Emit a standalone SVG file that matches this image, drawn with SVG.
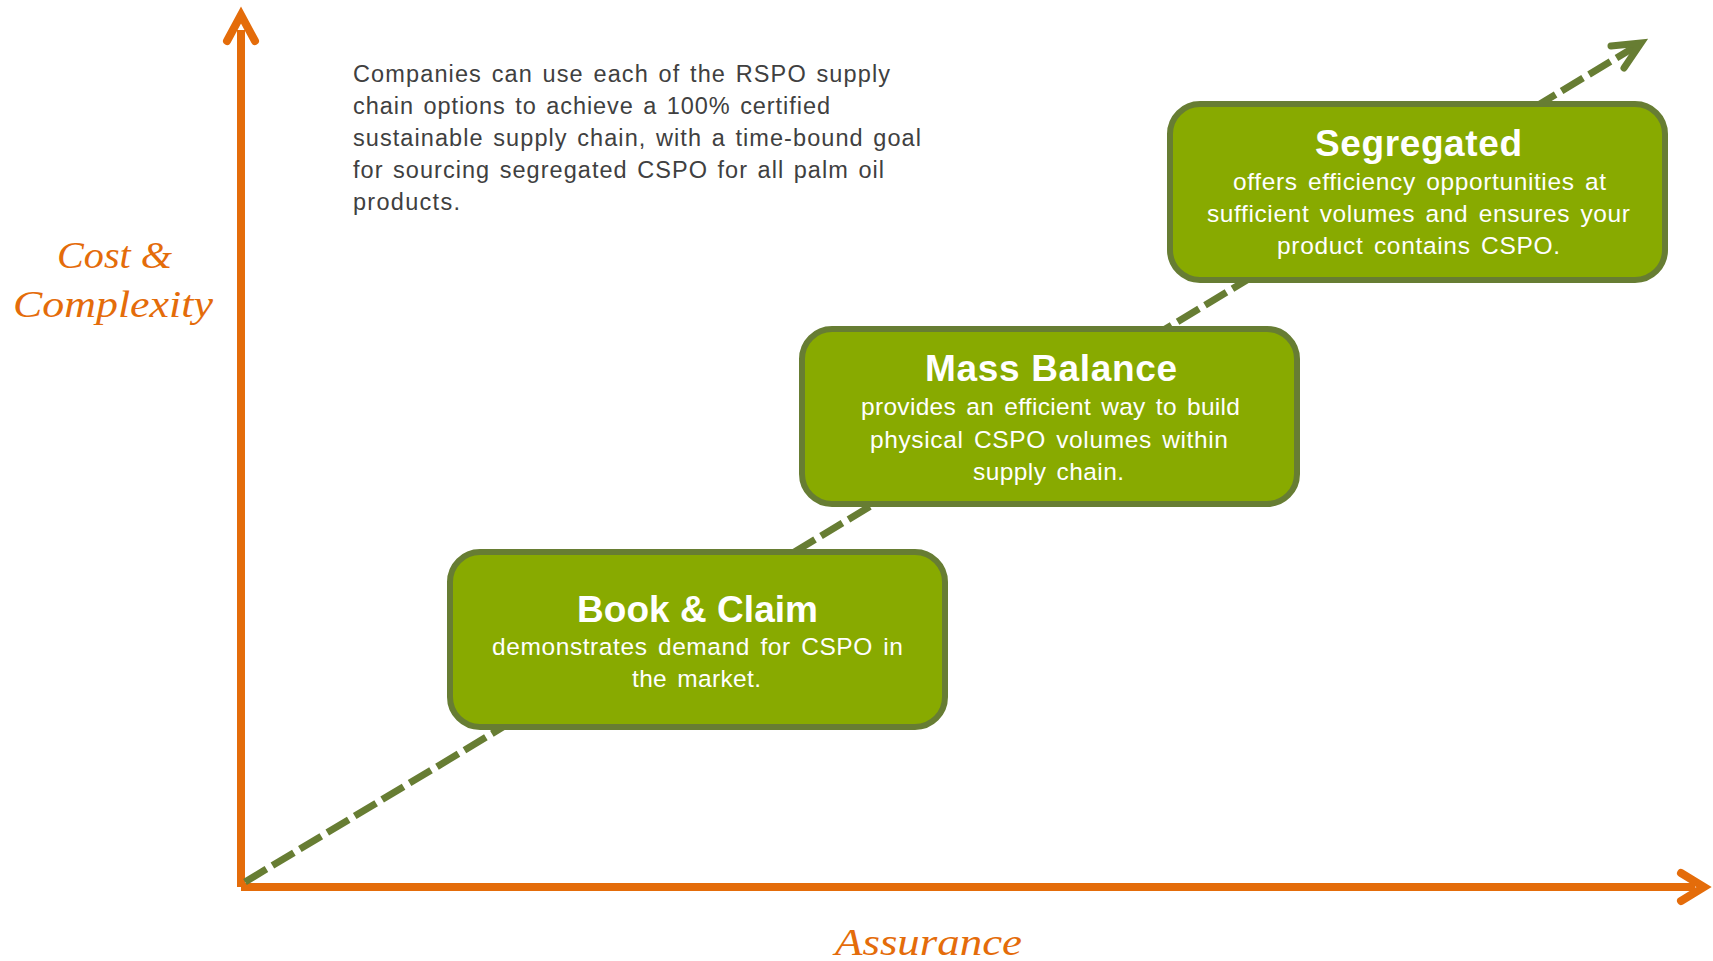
<svg xmlns="http://www.w3.org/2000/svg" width="1713" height="961" viewBox="0 0 1713 961">
  <style>
    .axis { fill: none; stroke: #E46C0A; stroke-width: 8; }
    .axishead { fill: none; stroke: #E46C0A; stroke-width: 8; stroke-linecap: round; stroke-linejoin: miter; }
    .axislabel { font-family: "Liberation Serif", "Times New Roman", serif; font-style: italic; font-size: 38px; fill: #E46C0A; }
    .desc { font-family: "Liberation Sans", Arial, sans-serif; font-size: 23.5px; fill: #404040; word-spacing: 2px; }
    .box { fill: #88AA00; stroke: #677D33; stroke-width: 6; }
    .title { font-family: "Liberation Sans", Arial, sans-serif; font-weight: bold; font-size: 37px; fill: #FFFFFF; }
    .body { font-family: "Liberation Sans", Arial, sans-serif; font-size: 24.5px; fill: #FFFFFF; word-spacing: 3px; }
    .dash { fill: none; stroke: #677D33; stroke-width: 7; stroke-dasharray: 25 7; }
    .dashhead { fill: none; stroke: #677D33; stroke-width: 7; stroke-linecap: round; stroke-linejoin: miter; }
  </style>

  <g id="axes">
    <path class="axis" d="M241,887 V30"/>
    <path class="axishead" d="M227,41 L241,15 L255,41"/>
    <path class="axis" d="M241,887 H1695"/>
    <path class="axishead" d="M1681,873 L1704,887 L1681,901"/>
    <text class="axislabel" x="57" y="268" textLength="115" lengthAdjust="spacingAndGlyphs">Cost &amp;</text>
    <text class="axislabel" x="13" y="317" textLength="200" lengthAdjust="spacingAndGlyphs">Complexity</text>
    <text class="axislabel" x="835" y="955" textLength="187" lengthAdjust="spacingAndGlyphs">Assurance</text>
  </g>

  <g id="description">
    <text class="desc" x="353" y="82" textLength="537">Companies can use each of the RSPO supply</text>
    <text class="desc" x="353" y="114" textLength="477">chain options to achieve a 100% certified</text>
    <text class="desc" x="353" y="146" textLength="568">sustainable supply chain, with a time-bound goal</text>
    <text class="desc" x="353" y="178" textLength="531">for sourcing segregated CSPO for all palm oil</text>
    <text class="desc" x="353" y="210" textLength="107">products.</text>
  </g>

  <g id="connectors">
    <path class="dash" d="M245,882 L1638,45"/>
    <path class="dashhead" d="M1611,46 L1641,43 L1624,68"/>
  </g>

  <g id="book-claim">
    <rect class="box" x="450" y="552" width="495" height="175" rx="30" ry="30"/>
    <text class="title" x="577" y="622" textLength="241">Book &amp; Claim</text>
    <text class="body" x="492" y="655" textLength="411">demonstrates demand for CSPO in</text>
    <text class="body" x="632" y="687" textLength="129">the market.</text>
  </g>

  <g id="mass-balance">
    <rect class="box" x="802" y="329" width="495" height="175" rx="30" ry="30"/>
    <text class="title" x="925" y="381" textLength="252">Mass Balance</text>
    <text class="body" x="861" y="415" textLength="379">provides an efficient way to build</text>
    <text class="body" x="870" y="448" textLength="358">physical CSPO volumes within</text>
    <text class="body" x="973" y="480" textLength="151">supply chain.</text>
  </g>

  <g id="segregated">
    <rect class="box" x="1170" y="104" width="495" height="176" rx="30" ry="30"/>
    <text class="title" x="1315" y="156" textLength="207">Segregated</text>
    <text class="body" x="1233" y="190" textLength="373">offers efficiency opportunities at</text>
    <text class="body" x="1207" y="222" textLength="423">sufficient volumes and ensures your</text>
    <text class="body" x="1277" y="254" textLength="283">product contains CSPO.</text>
  </g>
</svg>
